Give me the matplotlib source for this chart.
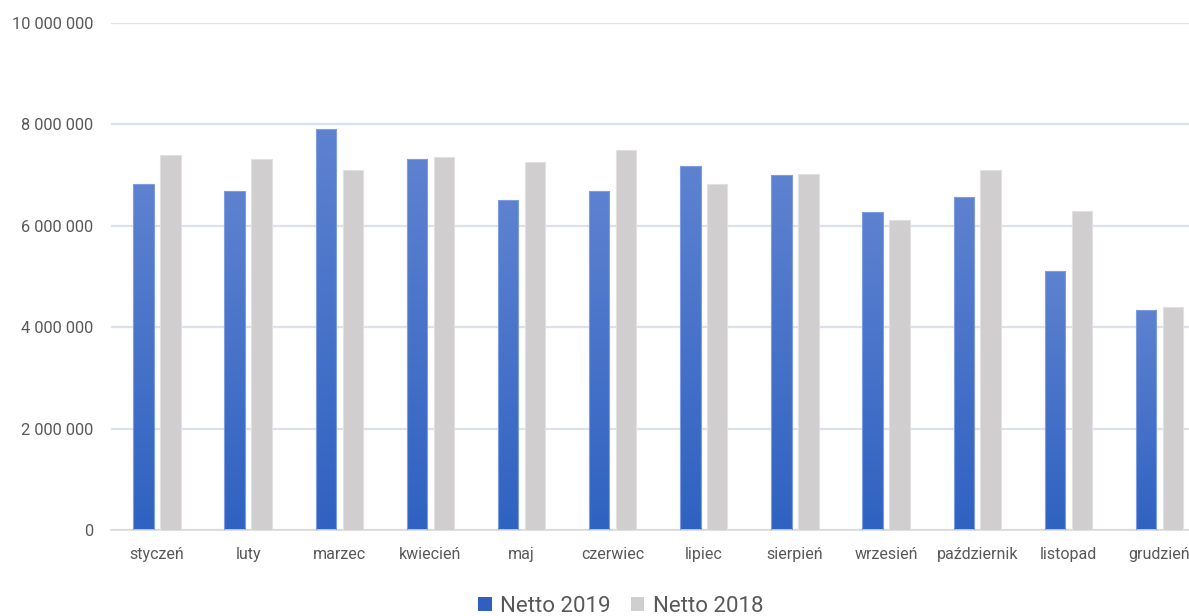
import matplotlib
matplotlib.use("Agg")
import matplotlib.pyplot as plt
import numpy as np
from matplotlib.colors import LinearSegmentedColormap
from matplotlib.ticker import FuncFormatter, MultipleLocator
from matplotlib.patches import Patch

months = ["styczeń", "luty", "marzec", "kwiecień", "maj", "czerwiec", "lipiec",
          "sierpień", "wrzesień", "październik", "listopad", "grudzień"]
netto_2019 = [6830000, 6680000, 7900000, 7310000, 6500000, 6680000, 7180000,
              7010000, 6270000, 6570000, 5110000, 4350000]
netto_2018 = [7390000, 7310000, 7090000, 7360000, 7260000, 7490000, 6830000,
              7030000, 6120000, 7090000, 6300000, 4400000]
series_names = ["Netto 2019", "Netto 2018"]

plt.rcParams["font.family"] = ["Roboto", "DejaVu Sans"]
TXT = "#595959"

fig = plt.figure(figsize=(11.89, 6.16), dpi=100)
ax = fig.add_axes([0.0937, 0.139, 1.0135 - 0.0937, 0.963 - 0.139])

x = np.arange(len(months))
w = 0.224
off = 0.148

blue_cmap = LinearSegmentedColormap.from_list("b", ["#2f62c1", "#5e82d0"])
grad = np.linspace(0, 1, 256).reshape(-1, 1)

bars19 = ax.bar(x - off, netto_2019, w, facecolor="none", edgecolor="#7d9de0",
                linewidth=0.8, zorder=3, label=series_names[0])
bars18 = ax.bar(x + off, netto_2018, w, color="#d0cece", edgecolor="#e2e0e0",
                linewidth=0.8, zorder=3, label=series_names[1])

for b in bars19:
    x0, y0 = b.get_x(), b.get_y()
    im = ax.imshow(grad, cmap=blue_cmap, aspect="auto", origin="lower",
                   extent=[x0, x0 + b.get_width(), y0, y0 + b.get_height()],
                   zorder=2.5)
    im.set_clip_path(b)

ax.set_xlim(-0.5, len(months) - 0.5)
ax.set_ylim(0, 10000000)
ax.yaxis.set_major_locator(MultipleLocator(2000000))
ax.yaxis.set_major_formatter(FuncFormatter(lambda v, p: f"{int(v):,}".replace(",", " ")))
ax.grid(axis="y", color="#dde1ea", linewidth=1.6, zorder=0)
ax.set_axisbelow(True)
for s in ["top", "right", "left"]:
    ax.spines[s].set_visible(False)
ax.spines["bottom"].set_color("#d9d9d9")
ax.spines["bottom"].set_linewidth(1.2)
ax.set_xticks(x)
ax.set_xticklabels(months)
ax.tick_params(axis="x", length=0, pad=12, labelsize=11.5, labelcolor=TXT)
ax.tick_params(axis="y", length=0, pad=13, labelsize=11.8, labelcolor=TXT)

handles = [Patch(facecolor="#2f5fbf", edgecolor="none"),
           Patch(facecolor="#d0cece", edgecolor="none")]
fig.legend(handles, series_names, loc="center", bbox_to_anchor=(621 / 1189, 1 - 606 / 616),
           ncol=2, frameon=False, fontsize=16, handlelength=0.6, handleheight=0.6,
           handletextpad=0.4, columnspacing=0.9, labelcolor=TXT)

fig.savefig("out.png", dpi=100)
